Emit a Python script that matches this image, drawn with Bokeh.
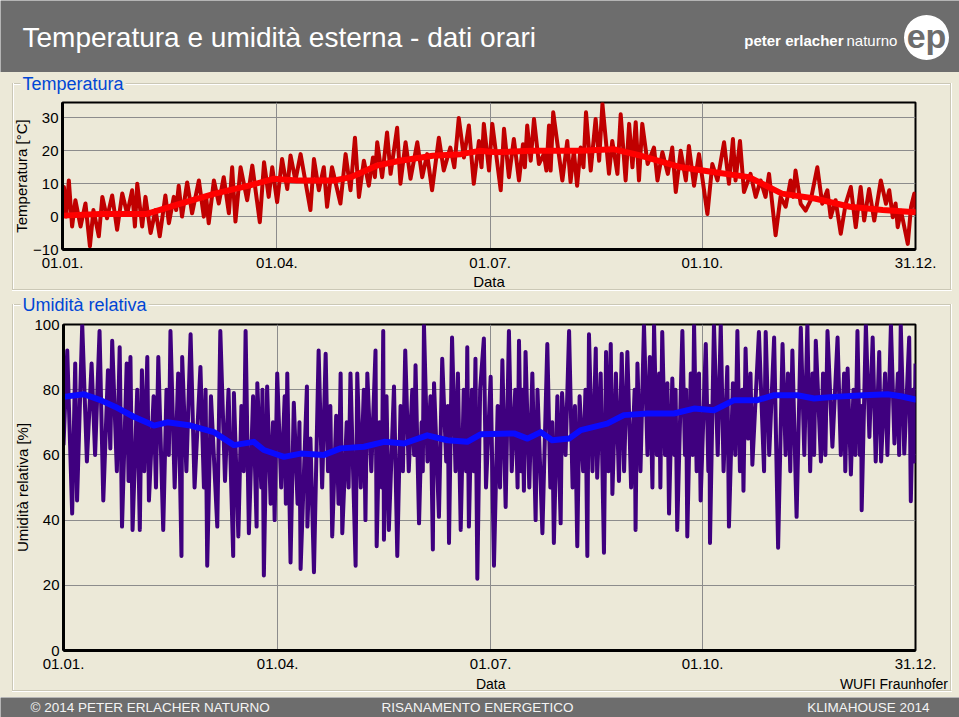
from bokeh.plotting import figure
from bokeh.layouts import column
from bokeh.models import Range1d, FixedTicker, Label, LinearAxis
from bokeh.core.properties import value
from bokeh.embed import file_html
from bokeh.resources import INLINE

# ---------------- data ----------------
# x axis: day of year; tick positions and labels
tick_days = [0, 91.5, 182.5, 273, 364]
tick_labels = ["01.01.", "01.04.", "01.07.", "01.10.", "31.12."]

temp_ticks = [-10, 0, 10, 20, 30]
rh_ticks = [0, 20, 40, 60, 80, 100]

# hourly temperature, daily highs and lows
temp_days = [0, 0.6, 1.6, 2.7, 4.1, 5.5, 7.7, 9.8, 11.7, 13.2, 15.5, 17, 19, 21.2, 23.3, 25.5, 27.6,
             29.7, 30.9, 31.9, 34, 35.4, 37.6, 39.7, 41.5, 43.9, 45.4, 47.5, 48.5, 49.6, 51, 53.2,
             55.3, 58.2, 60.3, 61.3, 62.4, 64.6, 66.7, 68.8, 71, 72.4, 73.8, 76, 78.8, 81, 84.2, 86,
             88, 89.5, 91.6, 93.7, 95.9, 97.3, 99.4, 101.6, 105.8, 107.3, 109.4, 111.5, 112.9, 115,
             118.6, 120.8, 122.9, 124.8, 126.5, 128.6, 130.7, 132.5, 133.3, 134.3, 136.4, 138.5, 140,
             142.8, 144.2, 146.4, 148.5, 151.4, 153.5, 155.6, 157.7, 160.6, 162.7, 165.5, 167.2,
             169.1, 171.3, 173.4, 175.5, 177.7, 178.8, 179.8, 182, 183.4, 187, 188.4, 190.5, 192.6,
             194.8, 196.5, 197.3, 198.3, 199.8, 201.2, 203.3, 205.4, 206.5, 207.6, 208.3, 209.4,
             213.3, 215.4, 216.8, 218.2, 219.6, 221.1, 222.3, 223.4, 225.4, 227.5, 229, 230.4,
             233.2, 234.6, 236.8, 238.2, 240.3, 241.8, 243.2, 244.6, 246, 247.4, 249.7, 252.4,
             253.9, 256, 258.3, 260.2, 261.7, 263.8, 266, 267.3, 269.5, 271.6, 275.2, 277.3, 279.5,
             282.3, 284.4, 286.1, 287.2, 289.1, 290.8, 293.6, 295.8, 297.9, 300, 301.5, 304.3,
             306.4, 308.6, 310.7, 311.8, 312.8, 315, 317.1, 319.3, 322.1, 324.2, 326.4, 327.8,
             329.9, 332.1, 334.2, 336.4, 338.5, 340.6, 342.1, 344.2, 346.4, 349.2, 351.4, 352.8,
             354.3, 355.5, 356.4, 357.8, 360.7, 362.1, 363.5, 364]
temp_vals = [4, 9, 0, 11, -3, 5, -3, 4, -9, 2, -6, 6, -0.5, 6.4, -4, 7, 0.8,
             8, -3, 10, -3, 6, -5, 2, -6, 6.4, -2, 6, 2, 9.4, 0, 10.4,
             1, 11, 0, 6, -2, 11, 4, 12, 1, 15, -1.5, 15, 5, 15.5, -1.7, 16.5,
             6, 15, 4.4, 17.5, 8.4, 18.6, 11, 19, 2, 17.5, 8, 15, 3, 15,
             4, 19, 8, 24, 6, 17, 9.4, 18, 12, 22.6, 12, 25.6, 13,
             27, 10, 22.6, 11.5, 22.6, 12, 19, 8, 24, 14, 21, 15,
             30, 18, 27.7, 10, 23, 15, 28.2, 14, 28.2, 8, 26.7, 12, 23.6,
             11, 22, 15, 27.7, 17, 29.7, 16, 19, 14, 27.7, 14, 31.7,
             11, 23, 10.5, 20, 9.4, 21, 15, 31.7, 14, 29.7, 17, 34.3,
             13, 23, 13, 31.1, 11, 28.2, 15, 28.7, 11, 28.2, 16, 21,
             11, 19.6, 13, 21, 7.5, 20, 11, 21.5, 9.4, 19, 0.8, 16, 11,
             22.6, 10, 23.6, 11, 23, 7.5, 13, 6, 11, 6, 13, -5.7,
             6, 3, 11, 6, 14, 3.9, 1.8, 5, 15, 3.9, 8, -0.2,
             5, -5.2, 3.9, 9, -3.2, 9, -1.2, 8.4, -1.2, 11, 3.9, 8,
             -0.2, 4, -3.2, 1.8, -8.3, 3, 7, 0.8]

# smoothed temperature
temp_smooth_days = [0, 16, 36, 50, 65, 80, 90, 100, 116, 123, 134, 144, 158, 170, 178, 185, 200,
                    221, 235, 247, 264, 279, 293, 307, 321, 336, 350, 364]
temp_smooth_vals = [0.3, 0.8, 0.8, 3.9, 7, 9.5, 11.5, 11, 11, 12, 15.5, 17, 18.5, 19, 20, 19.6, 20,
                    20, 20.5, 18.5, 15, 13.4, 12, 7, 5.5, 3, 2, 1.3]

# hourly relative humidity, daily highs and lows
rh_days = [0, 1.6, 3.7, 5, 5.8, 8, 10, 12, 13.5, 15.4, 17, 19, 20, 20.8, 22.8, 24, 25, 27, 27.8,
           28.6, 29.5, 31.5, 32.6, 33.5, 34.5, 35.8, 36.5, 38.5, 39.5, 40.5, 42.6, 44, 45, 45.7,
           47.5, 49, 50.4, 50.7, 52.5, 54.3, 56, 58.5, 60, 60.7, 61.4, 63, 65.7, 67, 69, 70.5,
           72.5, 72.8, 74.7, 76, 77, 77.8, 79.2, 81, 82.5, 82.8, 84.5, 85, 85.6, 87, 88.5, 89.5,
           90.2, 91.3, 93, 94.5, 95, 95.6, 97, 98.4, 100, 100.8, 101.3, 104, 104.2, 105.5, 107,
           109, 110.5, 112, 113, 114, 114.8, 116.5, 117.5, 118.4, 119.1, 121, 121.8, 122.6, 124.8,
           125.5, 127, 128.3, 129, 129.8, 131.5, 133.3, 133.8, 135, 136, 136.6, 136.9, 138, 139,
           141.2, 142.6, 144, 145, 146, 147.5, 149, 149.8, 150.4, 151.9, 153, 153.5, 154, 155.5,
           156.8, 157.8, 158.3, 160.4, 161.8, 163.5, 164.2, 164.7, 166, 167.5, 168.5, 169.7, 171,
           172, 172.5, 173.2, 174.5, 175.3, 176, 176.8, 178,
           179.6, 180.5, 182.5, 183.9, 185.5, 186.5, 187.5, 188.9, 190.3, 191.5, 193, 194, 194.6,
           195.5, 196, 196.7, 197.4, 199, 200.3, 201.7, 202.5, 204.6, 206.7, 208, 208.8, 209.5,
           211, 212.4, 213, 214.5, 216, 217.5, 218.5, 219.5, 220.5, 222, 223, 223.8, 224.5, 226,
           227.4, 228, 229.5, 230.9, 231.8, 232.8, 233.8, 234.5, 236, 237.3, 238.5, 239.5, 240.9,
           242.5, 244, 244.4, 245.2, 246.5, 248, 249.5, 250.5, 251.6, 252.3, 253.5, 254.5, 255,
           255.8, 257, 258, 258.7, 260.1, 261, 261.5, 262.2, 264.4, 265.5, 266, 266.5, 268, 268.8,
           269.4, 270.5, 271.5, 272.2, 274.4, 275.5, 276, 276.2, 277.9, 279.5, 280.8, 282, 283.6,
           284.3, 286, 287, 287.9, 289, 290, 290.5, 291.4, 292.5, 293.5, 294.3, 297.1, 299.3,
           300, 301.5, 303.6, 305.3, 307.2, 308.5, 309.5, 310.5, 311.4, 313.2, 315, 316.5, 317.8,
           319, 320, 320.7, 321.4, 323.6, 324.5, 325.5, 326.4, 328.5, 330.7, 332.1, 333.5, 334,
           335, 336.4, 337.5, 338.3, 339.2, 340.2, 340.8, 341, 342.8, 344.3, 345.7, 347, 348.5,
           349.3, 351, 352, 353.5, 355, 356.5, 357, 357.7, 359.2, 361.3, 362, 363, 363.5, 364]
rh_vals = [63, 92, 42, 88, 46, 100, 58, 88, 60, 98, 46, 86, 62, 95, 55, 93, 38, 88, 52,
           90, 37, 80, 37, 86, 55, 90, 46, 78, 50, 90, 37, 80, 60, 98,
           50, 85, 29, 90, 55, 97, 50, 87, 50, 80, 26, 78, 38, 98, 52, 80,
           29, 79, 35, 75, 55, 98, 36, 78, 38, 82, 50, 80, 23, 81, 45, 70,
           40, 85, 50, 78, 45, 85, 27, 76, 45, 70, 25, 81, 38, 65, 24,
           92, 50, 91, 55, 75, 35, 72, 45, 85, 36, 70, 50, 85, 26,
           85, 50, 80, 40, 85, 55, 92, 32, 70, 50, 98, 34, 78, 37,
           81, 29, 75, 55, 92, 55, 80, 60, 87.5, 39, 70, 55, 100, 58,
           78, 31, 82, 41, 89.5, 58, 75, 33, 96, 55, 85, 37, 80,
           55, 93, 38, 80, 55, 89.5, 22, 80,
           95.7, 50, 84, 26, 75, 50, 89, 44, 98, 55, 80, 50, 95,
           55, 80, 49, 91.6, 50, 85, 40, 80, 36, 94, 50, 70, 33,
           78, 39, 79, 60, 98, 50, 75, 32, 78, 55, 80, 29, 97, 55,
           92.6, 53, 85, 30, 91.6, 55, 94, 48, 85, 52, 91, 55, 91.6,
           50, 80, 37, 88, 55, 100, 60, 90, 50, 100, 60, 85, 50,
           97.7, 60, 82, 42, 83.4, 60, 80, 37, 98, 60, 80, 35, 85, 60,
           100, 55, 85, 46, 94, 55, 75, 33, 100, 60, 100, 55, 87,
           38, 82, 60, 98, 55, 80, 49, 92.6, 65, 85, 57, 97.7, 55,
           97.7, 60, 96, 31.5, 94, 60, 85, 55, 92, 41, 99, 60, 100,
           55, 85, 60, 95, 58, 85, 60, 98, 62.5, 96, 60, 85, 55,
           86.5, 54, 80, 60, 98, 60, 75, 43, 100, 65.5, 96, 58, 91.6,
           58, 85, 60, 100, 63.5, 85, 60, 100, 60.4, 96, 45.8, 80, 58, 88]

# smoothed relative humidity
rh_smooth_days = [0, 8.7, 15.8, 22.2, 30, 38.6, 44.3, 54.3, 64.2, 72.8, 81.3, 85.6, 94.2, 101.3,
                  111.3, 118.4, 128.4, 137, 145.5, 155.4, 164, 172.5, 178.2, 192.5, 198.2, 203.9,
                  208.8, 216, 221, 232.3, 239.4, 249.4, 260.8, 269.4, 277.9, 286.5, 296.4, 303.6,
                  313.5, 320.7, 329.2, 342, 352.1, 357.7, 364]
rh_smooth_vals = [77.8, 78.6, 76.8, 74.7, 71.7, 69, 70, 69, 67, 63, 64, 61.5, 59.4, 60.4,
                  60, 62, 62.5, 64, 63.5, 66, 64.5, 64, 66.3, 66.6, 65, 67,
                  64.5, 65, 67.6, 69.6, 72.2, 72.7, 72.7, 74.2, 73.7, 76.8, 76.8, 78.3,
                  78.3, 77.3, 77.8, 78.3, 78.6, 78, 77]

# second row of texts under the humidity axis (positions in days)
rh_caption_days = [182.5, 354.8]
rh_caption_texts = ["Data", "WUFI Fraunhofer"]

# ---------------- styling ----------------
W = 959
BEIGE = "#ece9d8"
GREY = "#6d6d6d"
FONT = "Liberation Sans"
CAPTION_BLUE = "#0046d5"
ETCH = "#cbc8b6"
BOX_L, BOX_R = 12, 950


def box_css(height, top=None, bottom=None):
    """CSS background drawing (part of) the etched group-box outline behind a figure."""
    y0 = 0 if top is None else top
    y1 = height if bottom is None else bottom
    g = f"linear-gradient({ETCH},{ETCH})"
    wg = "linear-gradient(#ffffff,#ffffff)"
    w = BOX_R - BOX_L
    layers = [f"{g} {BOX_L}px {y0}px / 1px {y1 - y0}px no-repeat",
              f"{wg} {BOX_L + 1}px {y0}px / 1px {y1 - y0}px no-repeat",
              f"{g} {BOX_R}px {y0}px / 1px {y1 - y0}px no-repeat",
              f"{wg} {BOX_R + 1}px {y0}px / 1px {y1 - y0}px no-repeat"]
    if top is not None:
        layers += [f"{g} {BOX_L}px {top}px / {w}px 1px no-repeat",
                   f"{wg} {BOX_L + 1}px {top + 1}px / {w - 1}px 1px no-repeat"]
    if bottom is not None:
        layers += [f"{g} {BOX_L}px {bottom}px / {w + 1}px 1px no-repeat",
                   f"{wg} {BOX_L}px {bottom + 1}px / {w + 2}px 1px no-repeat"]
    return {"background": ", ".join(layers) + f", {BEIGE}"}


def no_align(f):
    try:
        f.frame_align = False
    except Exception:
        pass


def band(height, color, styles=None):
    transparent = styles is not None
    f = figure(width=W, height=height, x_range=Range1d(0, W), y_range=Range1d(0, height),
               x_axis_type=None, y_axis_type=None, toolbar_location=None, output_backend="svg",
               min_border=0, background_fill_color=color, border_fill_color=color,
               background_fill_alpha=0 if transparent else 1,
               border_fill_alpha=0 if transparent else 1,
               outline_line_color=None, styles=styles or {})
    f.grid.visible = False
    no_align(f)
    return f


def caption_band(height, text, top_line):
    f = band(height, BEIGE, styles=box_css(height, top=top_line))
    f.add_layout(Label(x=20, y=height - top_line, text=text, text_color=CAPTION_BLUE,
                       text_font=FONT, text_font_size="18px", text_baseline="middle",
                       background_fill_color=BEIGE, padding=2))
    return f


# header
header = band(72, GREY)
header.add_layout(Label(x=22, y=35, text="Temperatura e umidità esterna - dati orari",
                        text_color="white", text_font=FONT,
                        text_font_size="28px", text_baseline="middle"))
header.add_layout(Label(x=843, y=32, text="peter erlacher", text_color="white",
                        text_font=FONT, text_font_size="15px", text_font_style="bold",
                        text_align="right", text_baseline="middle"))
header.add_layout(Label(x=846, y=32, text="naturno", text_color="white",
                        text_font=FONT, text_font_size="15px",
                        text_baseline="middle"))
header.scatter(x=[926], y=[35], size=45, marker="circle", fill_color="white", line_color=None)
header.text(x=[926], y=[37], text=["ep"], text_color=GREY, text_font=value(FONT),
            text_font_style="bold", text_font_size="34px", text_align="center",
            text_baseline="middle")


def style_axis(ax, size="15px"):
    ax.axis_line_color = "black"
    ax.axis_line_width = 3
    ax.major_tick_in = 0
    ax.major_tick_out = 0
    ax.minor_tick_in = 0
    ax.minor_tick_out = 0
    ax.major_label_text_font = FONT
    ax.major_label_text_font_size = size
    ax.major_label_text_color = "black"
    ax.axis_label_text_font = FONT
    ax.axis_label_text_font_size = "15px"
    ax.axis_label_text_font_style = "normal"
    ax.axis_label_text_color = "black"


def panel(height, ranges, ticks, border, ylabel, box_bottom):
    lb, rb, tb, bb = border
    p = figure(width=W, height=height, x_range=Range1d(0, 364), y_range=Range1d(*ranges),
               toolbar_location=None, output_backend="svg",
               min_border_left=lb, min_border_right=rb, min_border_top=tb, min_border_bottom=bb,
               background_fill_color=BEIGE, border_fill_color=BEIGE, border_fill_alpha=0,
               outline_line_color="black", outline_line_width=2,
               styles=box_css(height, bottom=box_bottom))
    no_align(p)
    p.xaxis.ticker = FixedTicker(ticks=tick_days)
    p.xaxis.major_label_overrides = {d: t for d, t in zip(tick_days, tick_labels)}
    p.yaxis.ticker = FixedTicker(ticks=ticks)
    p.yaxis.axis_label = ylabel
    style_axis(p.xaxis[0])
    style_axis(p.yaxis[0])
    p.xaxis.major_label_standoff = 8
    p.xaxis.axis_label_standoff = 2
    p.yaxis.major_label_standoff = 4
    p.yaxis.axis_label_standoff = 0
    p.grid.grid_line_color = "#8c8c8c"
    p.grid.grid_line_width = 1
    return p


# temperature group
cap1 = caption_band(24, "Temperatura", 11)
p1 = panel(197, (-10, 34.7), temp_ticks, (62, 44, 6, 44), "Temperatura [°C]", 193)
p1.xaxis.axis_label = "Data"
p1.line(temp_days, temp_vals, line_color="#c00000", line_width=4, line_join="round")
p1.line(temp_smooth_days, temp_smooth_vals, line_color="#ff0000", line_width=6,
        line_join="round", line_cap="round")

# humidity group
cap2 = caption_band(23, "Umidità relativa", 11)
p2 = panel(381, (0, 100), rh_ticks, (63, 44, 8, 47), "Umidità relativa [%]", 374)
cap_axis = LinearAxis(ticker=FixedTicker(ticks=rh_caption_days),
                      major_label_overrides={d: t for d, t in zip(rh_caption_days, rh_caption_texts)})
style_axis(cap_axis, "14px")
cap_axis.axis_line_color = None
cap_axis.major_label_standoff = 4
p2.add_layout(cap_axis, "below")
p2.line(rh_days, rh_vals, line_color="#3f007f", line_width=4, line_join="round")
p2.line(rh_smooth_days, rh_smooth_vals, line_color="#0a0aff", line_width=6,
        line_join="round", line_cap="round")

# footer
footer = band(20, GREY)
for txt, x, align in [("© 2014 PETER ERLACHER NATURNO", 30, "left"),
                      ("RISANAMENTO ENERGETICO", 477, "center"),
                      ("KLIMAHOUSE 2014", 929, "right")]:
    footer.add_layout(Label(x=x, y=10, text=txt, text_color="#f4f4f4", text_font=FONT,
                            text_font_size="13.5px", text_align=align, text_baseline="middle"))

layout = column(header, cap1, p1, cap2, p2, footer, spacing=0)
open("out.html", "w").write(file_html(layout, INLINE))
